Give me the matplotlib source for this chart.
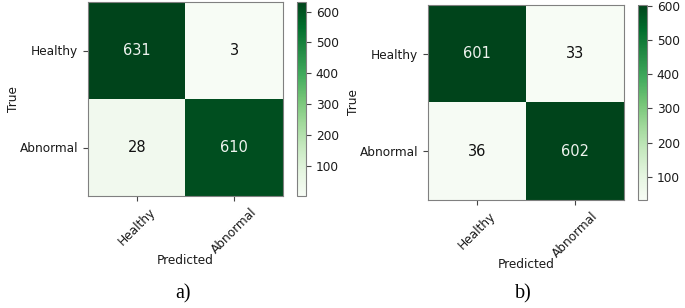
import numpy as np
import matplotlib
matplotlib.use("Agg")
import matplotlib.pyplot as plt

labels = ["Healthy", "Abnormal"]
cm_a = np.array([[631, 3], [28, 610]])
cm_b = np.array([[601, 33], [36, 602]])
cbar_ticks = [100, 200, 300, 400, 500, 600]
panel_titles = ["a)", "b)"]

W, H = 685, 308
fig = plt.figure(figsize=(W / 100, H / 100), dpi=100)

def px(x0, y0, x1, y1):
    return [x0 / W, 1 - y1 / H, (x1 - x0) / W, (y1 - y0) / H]

layouts = [
    dict(ax=px(88, 2, 283, 196), cb=px(297, 2, 306, 196), title=(183, 294)),
    dict(ax=px(428, 5, 624, 200), cb=px(638, 5, 647, 200), title=(523, 294)),
]

edge = "#808080"
tc = "#1a1a1a"
for cm, lay, t in zip([cm_a, cm_b], layouts, panel_titles):
    ax = fig.add_axes(lay["ax"])
    cax = fig.add_axes(lay["cb"])
    im = ax.imshow(cm, cmap="Greens", vmin=cm.min(), vmax=cm.max(), aspect="auto")
    thresh = (cm.max() + cm.min()) / 2
    for i in range(2):
        for j in range(2):
            ax.text(j, i, str(cm[i, j]), ha="center", va="center", fontsize=10.5,
                    color="#eef3ee" if cm[i, j] > thresh else "#111111")
    ax.set_xticks(range(2))
    ax.set_yticks(range(2))
    ax.set_xticklabels(labels, rotation=45, ha="center", fontsize=8.7, color=tc)
    ax.set_yticklabels(labels, fontsize=8.7, color=tc)
    ax.set_xlabel("Predicted", fontsize=8.7, color=tc, labelpad=-1.6)
    ax.set_ylabel("True", fontsize=8.7, color=tc, labelpad=0)
    for s in ax.spines.values():
        s.set_edgecolor(edge)
    ax.tick_params(color="#444444", length=3.5)
    cb = fig.colorbar(im, cax=cax)
    cb.set_ticks(cbar_ticks)
    cb.ax.tick_params(labelsize=8.7, labelcolor=tc, color="#444444", length=3.5)
    cb.outline.set_edgecolor(edge)
    fig.text(lay["title"][0] / W, 1 - lay["title"][1] / H, t, ha="center", va="center",
             fontsize=14.5, family="Liberation Serif")

fig.savefig("out.png", dpi=100)
